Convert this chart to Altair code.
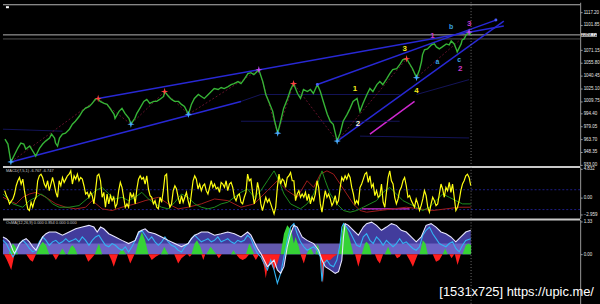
import altair as alt
import pandas as pd

# ================= DATA =================
# x is a bar index (3 bars per screen pixel); last bar = 1416
price_x = [6,15,24,36,45,54,63,69,81,90,
           99,111,120,129,141,147,156,159,165,171,
           180,189,201,210,219,231,240,249,261,270,
           279,288,294,306,315,324,336,339,351,360,
           369,381,387,399,405,414,426,435,444,456,
           465,474,486,489,501,510,519,531,540,549,
           561,570,579,591,600,609,621,630,639,651,
           660,669,681,690,699,711,720,729,741,750,
           759,768,774,786,795,804,816,822,831,840,
           849,861,870,879,891,900,909,921,930,939,
           951,960,969,981,990,999,1011,1020,1029,1041,
           1050,1059,1071,1080,1089,1101,1110,1119,1131,1140,
           1149,1161,1170,1179,1191,1200,1209,1221,1230,1239,
           1251,1260,1266,1269,1275,1284,1296,1305,1311,1320,
           1329,1341,1350,1356,1365,1371,1374,1386,1389,1395,
           1401,1404,1410,1416]
price_y = [963.6,957.6,936.0,945.6,952.8,958.8,957.6,951.6,955.2,949.2,
           943.2,952.8,957.6,961.2,964.8,969.6,964.8,958.8,955.2,964.8,
           969.6,970.8,975.6,981.6,985.2,991.2,997.2,1000.8,1003.2,1006.8,
           1011.6,1012.8,1009.2,1006.8,1005.6,1000.8,993.6,988.8,997.2,1000.8,
           994.8,988.8,981.6,988.8,994.8,1000.8,1009.2,1011.6,1006.8,1009.2,
           1009.2,1011.6,1015.2,1021.2,1015.2,1011.6,1009.2,1009.2,1005.6,1003.2,
           993.6,1005.6,1012.8,1017.6,1015.2,1012.8,1017.6,1021.2,1024.8,1023.6,
           1026.0,1024.8,1027.2,1029.6,1030.8,1033.2,1030.8,1035.6,1042.8,1044.0,
           1041.6,1045.2,1047.6,1033.2,1017.6,1009.2,997.2,985.2,970.8,985.2,
           1000.8,1012.8,1023.6,1030.8,1018.8,1012.8,1023.6,1021.2,1023.6,1018.8,
           1029.6,1021.2,1009.2,993.6,985.2,981.6,961.2,970.8,985.2,993.6,
           1000.8,1009.2,1012.8,997.2,1006.8,1017.6,1024.8,1021.2,1029.6,1033.2,
           1029.6,1036.8,1042.8,1047.6,1048.8,1053.6,1059.6,1060.8,1054.8,1048.8,
           1038.0,1047.6,1057.2,1065.6,1071.6,1072.8,1077.6,1078.8,1075.2,1072.8,
           1075.2,1078.8,1077.6,1082.4,1078.8,1072.8,1069.2,1078.8,1083.6,1084.8,
           1089.6,1090.8,1093.2,1089.7]

price_ticks = [933.00, 948.35, 963.70, 979.05, 994.40, 1009.75, 1025.10,
               1040.45, 1055.80, 1071.15, 1101.85, 1117.20]
bid_price = 1089.72
ask_price = 1084.80

low_marks = [(24, 936.0), (387, 981.6), (561, 993.6), (831, 970.8), (1011, 961.2), (1251, 1038.0)]
high_marks = [(288, 1012.8), (489, 1021.2), (879, 1030.8), (1221, 1060.8)]
major_marks = [(774, 1047.6), (1410, 1093.2)]
dot_marks = [(951, 1029.6), (1491, 1107.6)]

zigzag = [(24, 936.0), (288, 1012.8), (387, 981.6), (489, 1021.2), (561, 993.6),
          (774, 1047.6), (831, 970.8), (879, 1030.8), (1011, 961.2), (1221, 1060.8),
          (1251, 1038.0), (1410, 1093.2)]

trendlines = [
    ("A", "blue", [(288, 1012.8), (1515, 1100.4)]),
    ("B", "blue", [(951, 1029.6), (1491, 1107.6)]),
    ("C", "blue", [(1011, 961.2), (1515, 1106.4)]),
    ("D", "blue", [(24, 936.0), (720, 1009.2)]),
    ("E", "magenta", [(1110, 969.6), (1245, 1009.2)]),
    ("F1", "navy", [(0, 975.6), (180, 973.2)]),
    ("F2", "navy", [(720, 1009.2), (780, 1017.6), (1200, 1017.6)]),
    ("F3", "navy", [(1251, 1017.6), (1410, 1035.6)]),
    ("F4", "navy", [(1080, 967.2), (1410, 965.0)]),
    ("F5", "navy", [(720, 985.2), (1200, 985.2)]),
]

wave_text = ["1", "2", "3", "4", "1", "a", "b", "c", "2", "3"]
wave_x = [1065, 1074, 1215, 1251, 1299, 1314, 1356, 1380, 1383, 1410]
wave_y = [1024.8, 981.6, 1072.8, 1021.2, 1088.4, 1057.2, 1099.2, 1059.6, 1048.8, 1102.8]
wave_kind = ["yellow", "white", "yellow", "yellow", "magenta", "cyan", "cyan", "cyan", "magenta", "magenta"]

# ---- MACD(7,5,1) ----
macd_yellow = [
    1.11,0.26,-0.31,-1.15,-0.70,-0.31,0.54,1.95,2.80,3.36,
    2.24,3.08,1.11,-0.59,-2.00,-2.28,-0.87,-1.72,-0.59,-0.02,
    2.80,3.65,3.93,3.36,2.24,1.67,2.80,1.11,2.24,3.36,
    2.24,0.82,-0.02,2.80,1.95,3.36,2.52,3.08,3.65,3.93,
    4.49,2.24,3.65,3.08,3.93,2.80,3.36,3.08,1.95,0.54,
    0.82,-0.02,0.82,0.26,-1.15,1.11,3.65,3.93,2.80,-0.02,
    0.82,-1.72,0.54,-1.15,0.26,-0.59,-0.02,-1.72,-1.15,1.11,
    2.52,1.67,-0.02,-1.72,-1.15,-1.72,0.82,-0.02,0.54,-1.15,
    1.39,3.08,3.65,3.08,3.36,2.24,3.65,1.39,0.26,-0.02,
    -1.15,-0.59,-1.72,-2.00,-0.02,-0.87,1.11,3.65,3.93,-0.59,
    -1.72,-1.15,1.11,1.95,1.39,-0.02,-1.15,0.26,-0.87,-0.02,
    0.82,-0.59,-1.72,0.54,2.80,3.65,3.08,1.39,2.24,1.11,
    1.95,2.24,1.11,0.54,1.67,2.80,1.67,2.24,1.39,1.67,
    0.82,2.52,2.24,1.67,2.80,1.11,2.24,2.52,1.67,-0.02,
    -0.59,0.26,0.54,-0.87,-1.15,-0.02,0.82,3.93,2.80,3.08,
    0.82,-1.15,-0.02,2.52,1.11,-1.15,-2.28,-1.15,-0.02,-0.87,
    -0.31,-1.15,-2.00,-2.85,-1.72,1.67,3.93,2.24,3.08,2.80,
    1.67,3.36,3.65,4.21,2.80,2.80,-0.59,0.54,1.11,-0.02,
    0.54,-0.02,0.82,-0.59,0.54,-1.15,-0.02,-0.59,0.54,2.80,
    1.67,-1.15,-2.57,-0.59,1.11,-0.02,0.54,-0.31,-1.44,-0.87,
    0.26,-1.15,-0.59,1.67,3.36,2.80,3.65,3.08,3.93,3.36,
    1.67,0.54,-1.15,-0.59,-1.15,1.67,2.24,3.08,3.93,4.21,
    2.52,3.65,1.67,2.24,0.26,1.11,-0.02,0.26,2.24,-0.87,
    -1.72,0.82,3.36,4.49,2.80,2.24,-0.02,-1.15,-0.31,1.11,
    1.67,2.80,3.36,1.95,-0.02,0.26,-0.59,-1.15,-1.72,-0.31,
    -1.15,-2.28,-1.44,-0.31,1.11,0.26,-1.72,-2.57,-1.15,-0.02,
    -0.59,-1.44,-1.15,0.54,2.24,1.39,-0.02,1.67,1.11,2.52,
    0.82,2.24,-0.02,-2.28,-1.72,-0.59,1.11,2.24,2.80,3.65,
    3.93,3.36,1.95]
macd_step = 5

macd_green = [(0,0.54),(30,-1.15),(60,-1.72),(80,-0.59),(100,-0.02),(115,0.54),(130,-0.02),(150,-1.15),
              (170,-1.72),(200,-1.72),(230,-1.44),(260,-0.02),(280,1.11),(300,1.67),(320,0.54),(340,-0.31),
              (360,-0.02),(380,-0.59),(400,-0.02),(420,0.82),(440,-0.31),(460,-1.15),(480,-1.72),(500,-2.00),
              (520,-0.87),(540,0.54),(560,-0.02),(580,-1.15),(600,-1.72),(620,-2.00),(640,-1.72),(660,-1.15),
              (680,-0.87),(700,-0.02),(720,0.82),(740,1.39),(760,-0.02),(780,1.11),(800,2.80),(820,4.49),
              (835,2.80),(850,0.54),(870,-1.15),(900,-2.00),(920,-1.15),(940,0.54),(955,2.80),(965,4.49),
              (975,2.80),(990,0.54),(1010,-1.15),(1030,-2.28),(1050,-2.57),(1070,-2.28),(1090,-1.72),
              (1110,-1.15),(1130,-0.59),(1150,0.82),(1170,1.67),(1190,0.54),(1210,-0.59),(1230,-1.15),
              (1250,-1.72),(1270,-2.28),(1290,-1.72),(1310,-0.59),(1330,0.54),(1350,-0.02),(1370,-0.59),
              (1390,-1.15),(1415,-1.15)]
macd_red = [(0,-0.02),(20,-0.59),(40,-1.15),(60,-0.02),(80,0.54),(100,0.82),(130,-0.02),(160,-1.15),
            (190,-1.72),(220,-2.00),(250,-1.72),(270,-0.59),(300,-2.00),(330,-2.28),(360,-1.72),(400,-1.15),
            (430,-0.59),(470,-0.02),(500,-1.15),(530,-2.00),(560,-1.72),(600,-1.15),(640,-0.31),(680,-0.59),
            (720,-1.72),(760,-1.15),(800,1.11),(830,2.80),(860,1.11),(890,-0.02),(920,2.80),(940,1.67),
            (960,3.93),(980,4.49),(1000,3.93),(1020,2.24),(1040,0.54),(1060,-1.15),(1080,-2.28),(1100,-2.57),
            (1140,-2.28),(1180,-2.00),(1220,-1.72),(1260,-2.00),(1300,-2.28),(1340,-2.00),(1380,-1.72),(1415,-1.72)]
macd_levels = [1.27, -2.12]
macd_magenta = [(1086, -2.00), (1230, -2.00)]
macd_ticks = [4.832, 0.0, -2.959]

# ---- OsMA(12,26,9) ----
osma_white = [(0,0.70),(10,0.63),(20,0.50),(30,0.16),(35,0.03),(40,0.16),(50,0.43),(60,0.56),(70,0.63),(80,0.50),
              (90,0.30),(100,0.16),(110,0.43),(120,0.70),(130,0.83),(140,0.90),(160,0.90),(180,0.77),(200,0.90),(220,1.03),
              (240,1.10),(260,1.17),(275,1.10),(285,0.90),(295,1.10),(305,1.03),(320,0.83),(340,0.70),(360,0.56),(380,0.43),
              (400,0.56),(410,0.90),(420,0.97),(430,1.03),(440,0.90),(460,0.83),(480,0.70),(500,0.56),(520,0.43),(540,0.30),
              (560,0.43),(570,0.63),(580,0.77),(590,0.83),(600,0.90),(620,0.90),(640,0.77),(660,0.83),(680,0.90),(700,0.83),
              (720,0.70),(740,0.90),(750,0.77),(760,0.50),(770,0.23),(780,0.03),(790,-0.24),(800,-0.51),(810,-0.38),(820,-0.24),
              (830,-0.64),(840,-0.78),(850,-0.51),(860,0.30),(870,0.83),(880,1.17),(890,1.10),(905,0.70),(920,0.56),(940,0.43),
              (955,0.16),(965,-0.24),(975,-0.51),(990,-0.64),(1005,-0.78),(1015,-0.71),(1025,-0.24),(1030,0.70),(1035,1.24),(1045,1.17),
              (1060,0.97),(1075,0.77),(1090,1.10),(1100,1.24),(1115,1.30),(1130,1.17),(1145,0.97),(1160,1.10),(1175,1.24),(1190,1.17),
              (1205,0.97),(1220,0.90),(1235,0.70),(1250,0.50),(1265,0.70),(1280,1.17),(1295,1.24),(1310,1.10),(1325,0.90),(1340,0.83),
              (1355,0.70),(1370,0.50),(1385,0.70),(1400,0.90),(1415,0.97)]
osma_cyan = [(0,0.56),(10,0.43),(20,0.16),(30,-0.11),(40,0.09),(50,0.43),(60,0.56),(70,0.43),(80,0.23),(90,0.09),
             (100,0.16),(110,0.50),(120,0.70),(130,0.56),(140,0.36),(150,0.50),(160,0.56),(170,0.43),(180,0.50),(190,0.63),
             (200,0.50),(210,0.56),(220,0.63),(230,0.50),(240,0.70),(250,0.56),(260,0.36),(270,0.56),(280,0.70),(290,0.77),
             (300,0.56),(310,0.36),(320,0.30),(330,0.43),(340,0.36),(350,0.23),(360,0.16),(370,0.30),(380,0.09),(390,0.30),
             (400,0.56),(410,0.83),(420,0.97),(430,0.77),(440,0.56),(450,0.70),(460,0.50),(470,0.36),(480,0.50),(490,0.70),
             (500,0.50),(510,0.36),(520,0.30),(530,0.16),(540,0.09),(550,0.30),(560,0.43),(570,0.63),(580,0.77),(590,0.63),
             (600,0.50),(610,0.56),(620,0.63),(630,0.50),(640,0.56),(650,0.70),(660,0.50),(670,0.56),(680,0.63),(690,0.50),
             (700,0.43),(710,0.56),(720,0.50),(730,0.56),(740,0.77),(750,0.63),(760,0.30),(770,0.03),(780,-0.11),(790,-0.38),
             (800,-0.64),(810,-0.24),(820,-0.64),(830,-1.18),(840,-0.78),(850,-0.11),(860,0.56),(870,1.10),(880,1.24),(890,0.83),
             (900,0.50),(910,0.30),(920,0.16),(930,0.23),(940,0.30),(950,0.16),(960,-0.11),(965,-1.11),(970,-0.38),(980,-0.24),
             (990,-0.44),(1000,-0.51),(1010,-0.24),(1020,0.43),(1025,1.10),(1030,1.24),(1040,1.10),(1050,0.90),(1060,0.63),(1070,0.36),
             (1080,0.30),(1090,0.70),(1100,0.83),(1110,0.56),(1120,0.43),(1130,0.70),(1140,0.56),(1150,0.36),(1160,0.56),(1170,0.43),
             (1180,0.30),(1190,0.43),(1200,0.63),(1210,0.43),(1220,0.50),(1230,0.36),(1240,0.23),(1250,0.16),(1260,0.30),(1270,0.77),
             (1280,0.97),(1290,1.10),(1300,0.83),(1310,0.63),(1320,0.43),(1330,0.36),(1340,0.30),(1350,0.43),(1360,0.50),(1370,0.23),
             (1380,0.09),(1390,0.36),(1400,0.56),(1415,0.63)]
osma_pos = [(18,0),(25,0.30),(30,0.43),(38,0.30),(45,0),(100,0),(110,0.30),(120,0.50),(130,0.36),(140,0),
            (170,0),(180,0.23),(190,0),(195,0),(205,0.30),(210,0.36),(218,0.23),(225,0),(278,0),(290,0.43),(300,0),
            (350,0),(360,0.23),(372,0),(400,0),(410,0.50),(420,0.90),(430,0.56),(440,0),(478,0),(488,0.30),(500,0),
            (570,0),(580,0.43),(587,0.56),(597,0.30),(605,0),(615,0),(628,0.30),(645,0),(690,0),(697,0.16),(705,0),
            (735,0),(745,0.43),(760,0),(840,0),(850,0.83),(860,1.17),(872,0.97),(880,0.43),(885,0.70),(895,0.30),(900,0),
            (918,0),(930,0.30),(940,0),(945,0),(952,0.43),(960,0),(1015,0),(1022,0.63),(1030,1.30),(1040,1.03),(1050,0.56),
            (1060,0),(1085,0),(1095,0.43),(1100,0.50),(1108,0.36),(1115,0),(1155,0),(1165,0.30),(1175,0),(1260,0),
            (1270,0.56),(1278,0.43),(1285,0),(1330,0),(1338,0.23),(1345,0),(1390,0),(1400,0.36),(1408,0.43),(1416,0.36)]
osma_neg = [(3,0),(12,-0.24),(25,-0.64),(35,0),(70,0),(82,-0.24),(90,-0.31),(100,0),(150,0),(160,-0.24),(170,0),
            (248,0),(258,-0.31),(268,-0.17),(278,0),(320,0),(328,-0.24),(335,-0.51),(348,0),(375,0),(385,-0.38),(398,0),
            (440,0),(450,-0.24),(462,-0.11),(475,0),(518,0),(530,-0.38),(540,-0.17),(555,0),(558,0),(565,-0.11),(572,0),
            (600,0),(606,-0.24),(612,0),(645,0),(653,-0.17),(662,0),(705,0),(715,-0.17),(725,-0.24),(735,-0.17),(745,0),
            (755,0),(765,-0.24),(775,0),(780,0),(790,-0.51),(795,-0.98),(802,-0.38),(810,-0.38),(820,-0.64),(830,-0.38),
            (838,0),(900,0),(910,-0.38),(918,0),(960,0),(965,-0.78),(968,-1.18),(972,-0.51),(978,-0.24),(990,-0.24),
            (1000,-0.11),(1012,0),(1065,0),(1075,-0.51),(1085,0),(1125,0),(1132,-0.24),(1140,-0.38),(1150,0),(1185,0),
            (1192,-0.17),(1200,-0.11),(1205,0),(1220,0),(1230,-0.24),(1240,-0.51),(1248,-0.24),(1255,0),(1300,0),
            (1310,-0.31),(1320,-0.24),(1330,0),(1350,0),(1357,-0.17),(1365,0),(1367,0),(1375,-0.44),(1385,0)]
osma_band = (0.0, 0.43)
osma_ticks = [1.33, 0.0]
last_bar = 1416

# ================= STYLE =================
TREND_COL = {"blue": "#2828d4", "navy": "#14145a", "magenta": "#d028d0"}
TREND_W = {"blue": 1.5, "navy": 1.0, "magenta": 1.5}
MARK_COL = {"low": "#48a8ff", "high": "#ff4040", "major": "#c848ff"}
WAVE_COL = {"yellow": "#f4e81c", "white": "#f0f0d8", "magenta": "#c838c8", "cyan": "#3aa0e0"}

# ================= BUILD =================
W = 582
H_MAIN, H_MACD, H_OSMA = 165, 52, 85
dummy = pd.DataFrame({"a": [0]})

xs = alt.Scale(domain=[0, 1746], nice=False, zero=False)
def X(f):
    return alt.X(f, type="quantitative", scale=xs, axis=None)

ms = alt.Scale(domain=[931.2, 1129.2], nice=False, zero=False)
ax_main = alt.Axis(orient="right", values=price_ticks, format=".2f", labelOverlap=False)
def YM(f):
    return alt.Y(f, type="quantitative", scale=ms, axis=ax_main, title=None)

def pairs(lst):
    return pd.DataFrame({"x": [p[0] for p in lst], "y": [p[1] for p in lst]})

star = "M0,-1L0.22,-0.22L1,0L0.22,0.22L0,1L-0.22,0.22L-1,0L-0.22,-0.22Z"

df_price = pd.DataFrame({"x": price_x, "y": price_y})
rows = []
for tid, kind, pts in trendlines:
    for (a, b) in pts:
        rows.append({"id": tid, "col": TREND_COL[kind], "sw": TREND_W[kind], "x": a, "y": b})
df_trend = pd.DataFrame(rows)
mk = []
for kind, lst in [("low", low_marks), ("high", high_marks), ("major", major_marks)]:
    for (a, b) in lst:
        mk.append({"x": a, "y": b, "col": MARK_COL[kind]})
df_marks = pd.DataFrame(mk)
df_dots = pairs(dot_marks)
df_zz = pairs(zigzag)
df_wave = pd.DataFrame({"x": wave_x, "y": wave_y, "t": wave_text,
                        "col": [WAVE_COL[k] for k in wave_kind],
                        "fs": [8 if t.isdigit() else 7 for t in wave_text]})
df_h = pd.DataFrame({"y": [bid_price, ask_price], "col": ["#b4b4b4", "#505050"]})
df_box = pd.DataFrame({"p": [bid_price], "top": [bid_price + 2.1], "bot": [bid_price - 2.1],
                       "lab": [f"{bid_price:.2f}"]})
df_last = pd.DataFrame({"x": [last_bar]})

top_rule = alt.Chart(dummy).mark_rule(color="#b4b4b4", strokeWidth=1.2).encode(y=alt.value(2.5))
icon = alt.Chart(dummy).mark_rule(color="white", strokeWidth=2).encode(
    x=alt.value(3), x2=alt.value(6), y=alt.value(5))
hlines = alt.Chart(df_h).mark_rule(strokeWidth=1).encode(
    y=YM("y"), color=alt.Color("col:N", scale=None))
trend = alt.Chart(df_trend).mark_line().encode(
    x=X("x"), y=YM("y"), detail="id:N", color=alt.Color("col:N", scale=None),
    strokeWidth=alt.StrokeWidth("sw:Q", scale=None, legend=None))
zz = alt.Chart(df_zz).mark_line(color="#7a1634", strokeDash=[2, 2], strokeWidth=0.8).encode(x=X("x"), y=YM("y"))
vline_main = alt.Chart(df_last).mark_rule(color="#8a8a8a", strokeDash=[1, 2], strokeWidth=0.8).encode(x=X("x"))
pline = alt.Chart(df_price).mark_line(color="#36b436", strokeWidth=1.4).encode(x=X("x"), y=YM("y"))
marks = alt.Chart(df_marks).mark_point(shape=star, filled=True, size=55, opacity=1).encode(
    x=X("x"), y=YM("y"), color=alt.Color("col:N", scale=None))
dots = alt.Chart(df_dots).mark_circle(color="#4a5cff", size=9, opacity=1).encode(x=X("x"), y=YM("y"))
waves = alt.Chart(df_wave).mark_text(font="Liberation Sans", fontWeight="bold").encode(
    x=X("x"), y=YM("y"), text="t:N",
    size=alt.Size("fs:Q", scale=None, legend=None),
    color=alt.Color("col:N", scale=None))
box = alt.Chart(df_box).mark_rect(color="#f0f0f0").encode(
    x=alt.value(583), x2=alt.value(599), y=YM("top"), y2="bot")
box_t = alt.Chart(df_box).mark_text(color="black", fontSize=4.5, font="Liberation Sans",
                                    align="center", baseline="middle").encode(
    x=alt.value(591), y=YM("p"), text="lab:N")

main = alt.layer(top_rule, hlines, trend, zz, vline_main, pline, marks, dots, waves,
                 box, box_t, icon).properties(width=W, height=H_MAIN)

# ---- MACD panel ----
mcs = alt.Scale(domain=[-3.638, 5.171], nice=False, zero=False)
ax_macd = alt.Axis(orient="right", values=macd_ticks, labelOverlap=False,
                   labelExpr="datum.value == 0 ? '0.00' : format(datum.value, '.3f')")
def YC(f):
    return alt.Y(f, type="quantitative", scale=mcs, axis=ax_macd, title=None)

df_my = pd.DataFrame({"x": [macd_step * (i + 1) for i in range(len(macd_yellow))], "y": macd_yellow})
sep = alt.Chart(dummy).mark_rule(color="#c8c8c8", strokeWidth=2).encode(
    x=alt.value(0), x2=alt.value(W), y=alt.value(0))
lev = alt.Chart(pd.DataFrame({"y": macd_levels})).mark_rule(color="#2424a8", strokeDash=[2, 2], strokeWidth=0.8).encode(y=YC("y"))
mmag = alt.Chart(pairs(macd_magenta)).mark_line(color="#d030d0", strokeWidth=1.2).encode(x=X("x"), y=YC("y"))
mred = alt.Chart(pairs(macd_red)).mark_line(color="#a01c1c", strokeWidth=1).encode(x=X("x"), y=YC("y"))
mgreen = alt.Chart(pairs(macd_green)).mark_line(color="#1e8e1e", strokeWidth=1).encode(x=X("x"), y=YC("y"))
myel = alt.Chart(df_my).mark_line(color="#ffff10", strokeWidth=1.2).encode(x=X("x"), y=YC("y"))
vline_m = alt.Chart(df_last).mark_rule(color="#8a8a8a", strokeDash=[1, 2], strokeWidth=0.8).encode(x=X("x"))
mtitle = alt.Chart(dummy).mark_text(color="#c8c8c8", fontSize=4, font="Liberation Sans", align="left",
                                    baseline="middle").encode(
    x=alt.value(3), y=alt.value(4), text=alt.value("MACD(7,5,1) -6.767 -6.747"))
macd = alt.layer(sep, lev, mmag, mred, mgreen, myel, vline_m, mtitle).properties(width=W, height=H_MACD)

# ---- OsMA panel ----
oss = alt.Scale(domain=[-2.015, 1.41], nice=False, zero=False)
ax_osma = alt.Axis(orient="right", values=osma_ticks, format=".2f", labelOverlap=False)
def YO(f):
    return alt.Y(f, type="quantitative", scale=oss, axis=ax_osma, title=None)

df_band = pd.DataFrame({"x0": [0], "x1": [last_bar], "y0": [osma_band[0]], "y1": [osma_band[1]]})
sep2 = alt.Chart(dummy).mark_rule(color="#c8c8c8", strokeWidth=2).encode(
    x=alt.value(0), x2=alt.value(W), y=alt.value(0))
parea = alt.Chart(pairs(osma_white)).mark_area(color="#463fa4", opacity=0.95).encode(
    x=X("x"), y=YO("y"), y2=alt.datum(0))
band = alt.Chart(df_band).mark_rect(color="#7468cc", opacity=0.85).encode(
    x=X("x0"), x2="x1", y=YO("y0"), y2="y1")
gpos = alt.Chart(pairs(osma_pos)).mark_area(color="#36d236").encode(x=X("x"), y=YO("y"), y2=alt.datum(0))
rneg = alt.Chart(pairs(osma_neg)).mark_area(color="#ff1e1e").encode(x=X("x"), y=YO("y"), y2=alt.datum(0))
cyan = alt.Chart(pairs(osma_cyan)).mark_line(color="#32b4f4", strokeWidth=1.1).encode(x=X("x"), y=YO("y"))
white = alt.Chart(pairs(osma_white)).mark_line(color="#e8e8ff", strokeWidth=1.1).encode(x=X("x"), y=YO("y"))
vline_o = alt.Chart(df_last).mark_rule(color="#8a8a8a", strokeDash=[1, 2], strokeWidth=0.8).encode(x=X("x"))
otitle = alt.Chart(dummy).mark_text(color="#c8c8c8", fontSize=4, font="Liberation Sans", align="left",
                                    baseline="middle").encode(
    x=alt.value(3), y=alt.value(4), text=alt.value("OsMA(12,26,9) 0.000 0.854 0.000 0.000"))
wmark = alt.Chart(dummy).mark_text(color="white", fontSize=13, font="Liberation Sans", align="left",
                                   baseline="middle").encode(
    x=alt.value(440), y=alt.value(73), text=alt.value("[1531x725] https://upic.me/"))
osma = alt.layer(sep2, parea, band, gpos, rneg, cyan, white, vline_o, otitle, wmark).properties(
    width=W, height=H_OSMA)

chart = alt.vconcat(main, macd, osma, spacing=1, bounds="flush").properties(
    background="black", padding=0
).configure_view(stroke="transparent").configure_axis(
    labelFont="Liberation Sans", labelFontSize=4.5, labelColor="#e6e6e6",
    tickColor="#9a9a9a", domainColor="#9a9a9a", tickSize=2, labelPadding=1, grid=False
)

chart.save("out.html", embed_options={"renderer": "svg", "actions": False})
